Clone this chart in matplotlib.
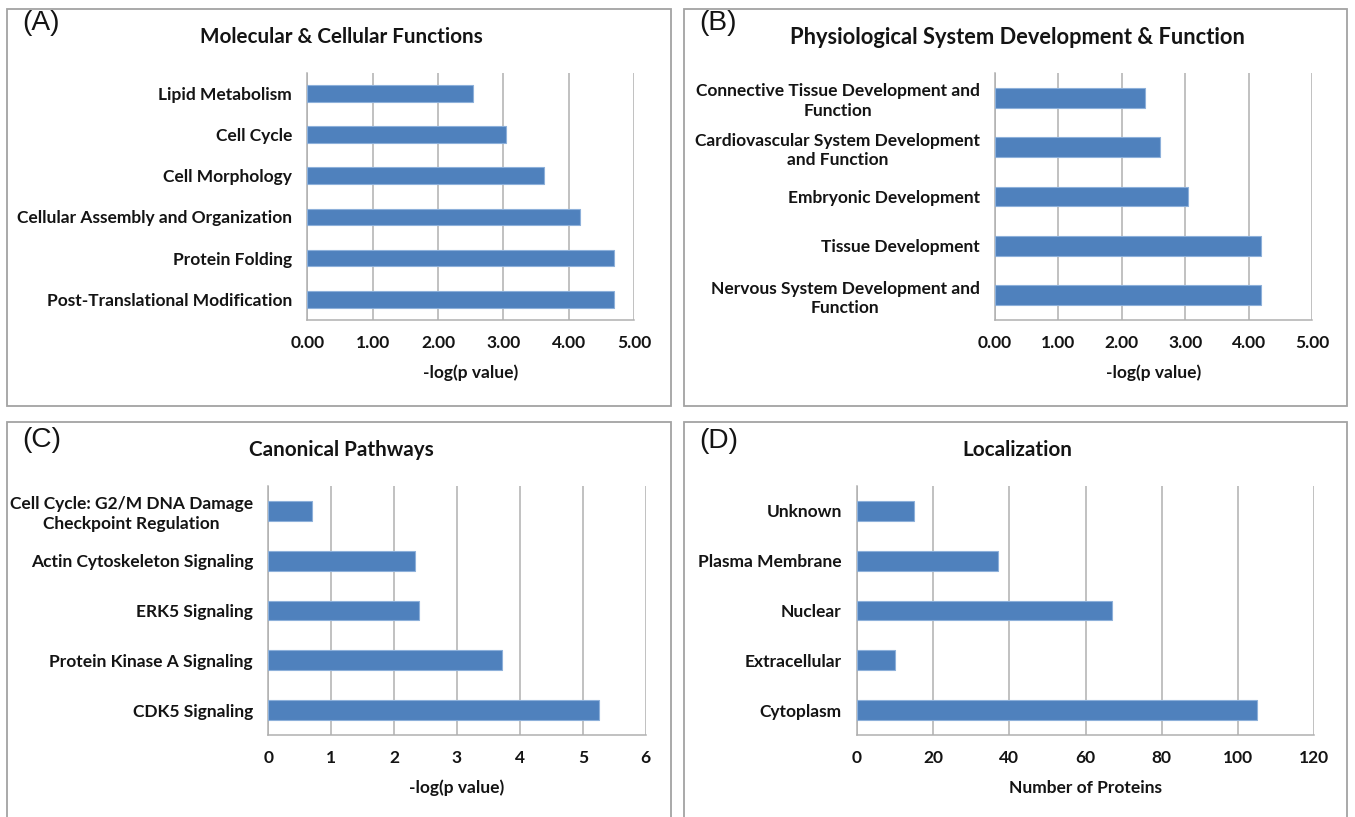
import matplotlib
matplotlib.use("Agg")
import matplotlib.pyplot as plt
from matplotlib.patches import Rectangle
from matplotlib.textpath import TextPath
from matplotlib.font_manager import FontProperties

W, H, DPI = 1355, 817, 100

# ---------------- data ----------------
a_title = "Molecular & Cellular Functions"
a_cats = ["Lipid Metabolism", "Cell Cycle", "Cell Morphology",
          "Cellular Assembly and Organization", "Protein Folding",
          "Post-Translational Modification"]
a_vals = [2.53, 3.04, 3.62, 4.18, 4.69, 4.69]
a_ticks = [0, 1, 2, 3, 4, 5]

b_title = "Physiological System Development & Function"
b_cats = ["Connective Tissue Development and\nFunction",
          "Cardiovascular System Development\nand Function",
          "Embryonic Development", "Tissue Development",
          "Nervous System Development and\nFunction"]
b_vals = [2.37, 2.61, 3.05, 4.19, 4.19]
b_ticks = [0, 1, 2, 3, 4, 5]

c_title = "Canonical Pathways"
c_cats = ["Cell Cycle: G2/M DNA Damage\nCheckpoint Regulation",
          "Actin Cytoskeleton Signaling", "ERK5 Signaling",
          "Protein Kinase A Signaling", "CDK5 Signaling"]
c_vals = [0.70, 2.33, 2.40, 3.71, 5.26]
c_ticks = [0, 1, 2, 3, 4, 5, 6]

d_title = "Localization"
d_cats = ["Unknown", "Plasma Membrane", "Nuclear", "Extracellular", "Cytoplasm"]
d_vals = [15, 37, 67, 10, 105]
d_ticks = [0, 20, 40, 60, 80, 100, 120]

xlab_p = "-log(p value)"
xlab_n = "Number of Proteins"

# ---------------- style ----------------
FAM = ["Lato", "DejaVu Sans"]
BAR = "#4F81BD"
BAR_EDGE = "#8DB0DA"
GRID = "#B0B0B0"
TXT = "#141414"
BORDER = "#A3A3A3"


def fit(s, px, family, weight):
    fp = FontProperties(family=family, weight=weight)
    w = TextPath((0, 0), s, size=100, prop=fp).get_extents().width
    return px / (w / 100 * DPI / 72)


FS = fit("Post-Translational Modification", 242, "Lato", "bold")
FS_T = fit(a_title, 281, "Lato", "bold")
FS_TB = fit(b_title, 452, "Lato", "bold")
FS_P = fit("(A)", 34, "Liberation Sans", "normal")
LS = 22 / (FS * DPI / 72)

fig = plt.figure(figsize=(W / DPI, H / DPI), dpi=DPI)
fig.patch.set_facecolor("white")


def fx(px):
    return px / W


def fy(py):
    return 1 - py / H


def border(x0, y0, x1, y1):
    fig.add_artist(Rectangle((fx(x0), fy(y1)), fx(x1) - fx(x0), fy(y0) - fy(y1),
                             transform=fig.transFigure, fill=False,
                             edgecolor=BORDER, linewidth=1.3, zorder=0))


def panel(box, axbox, title, tfs, tag, cats, vals, ticks, fmt, xlab, title_y, tag_y):
    bx0, by0, bx1, by1 = box
    border(bx0, by0, bx1, by1)
    fig.text(fx(bx0 + 15), fy(tag_y), tag, family="Liberation Sans",
             fontsize=FS_P, color=TXT, ha="left", va="center")
    fig.text(fx((bx0 + bx1) / 2 + 2), fy(title_y), title, family=FAM,
             weight="bold", fontsize=tfs, color=TXT, ha="center", va="center")
    l, r, t, b = axbox
    ax = fig.add_axes([fx(l), fy(b), fx(r) - fx(l), fy(t) - fy(b)])
    y = list(range(len(cats)))
    ax.barh(y, vals, height=0.4, color=BAR, edgecolor=BAR_EDGE,
            linewidth=0.8, zorder=3)
    ax.set_ylim(len(cats) - 0.5, -0.5)
    ax.set_xlim(ticks[0], ticks[-1])
    ax.set_xticks(ticks)
    ax.set_xticklabels([fmt.format(t) for t in ticks], family=FAM,
                       weight="bold", fontsize=FS, color=TXT)
    ax.set_yticks(y)
    ax.set_yticklabels(cats, family=FAM, weight="bold", fontsize=FS,
                       color=TXT, multialignment="center", linespacing=LS)
    ax.tick_params(axis="x", length=0, pad=11)
    ax.tick_params(axis="y", length=0, pad=11)
    ax.grid(axis="x", color=GRID, linewidth=1.1, zorder=0)
    ax.set_axisbelow(True)
    for s in ("top", "right"):
        ax.spines[s].set_visible(False)
    for s in ("left", "bottom"):
        ax.spines[s].set_color(GRID)
        ax.spines[s].set_linewidth(1.1)
    ax.set_xlabel(xlab, family=FAM, weight="bold", fontsize=FS, color=TXT,
                  va="center")
    ax.xaxis.set_label_coords(0.5, -53 / (b - t))
    ax.set_facecolor("white")
    return ax


panel((7, 9, 671, 406), (307.3, 634, 72.7, 320), a_title, FS_T, "(A)",
      a_cats, a_vals, a_ticks, "{:.2f}", xlab_p, 37, 23)
panel((684, 9, 1347, 406), (995, 1312, 73, 320), b_title, FS_TB, "(B)",
      b_cats, b_vals, b_ticks, "{:.2f}", xlab_p, 37.5, 23)
panel((7, 422, 671, 840), (268.3, 645.7, 486, 735), c_title, FS_T, "(C)",
      c_cats, c_vals, c_ticks, "{:d}", xlab_p, 450, 440)
panel((684, 422, 1347, 840), (857, 1314, 486, 735), d_title, FS_T, "(D)",
      d_cats, d_vals, d_ticks, "{:d}", xlab_n, 450.5, 441)

fig.savefig("out.png", dpi=DPI, facecolor="white")
